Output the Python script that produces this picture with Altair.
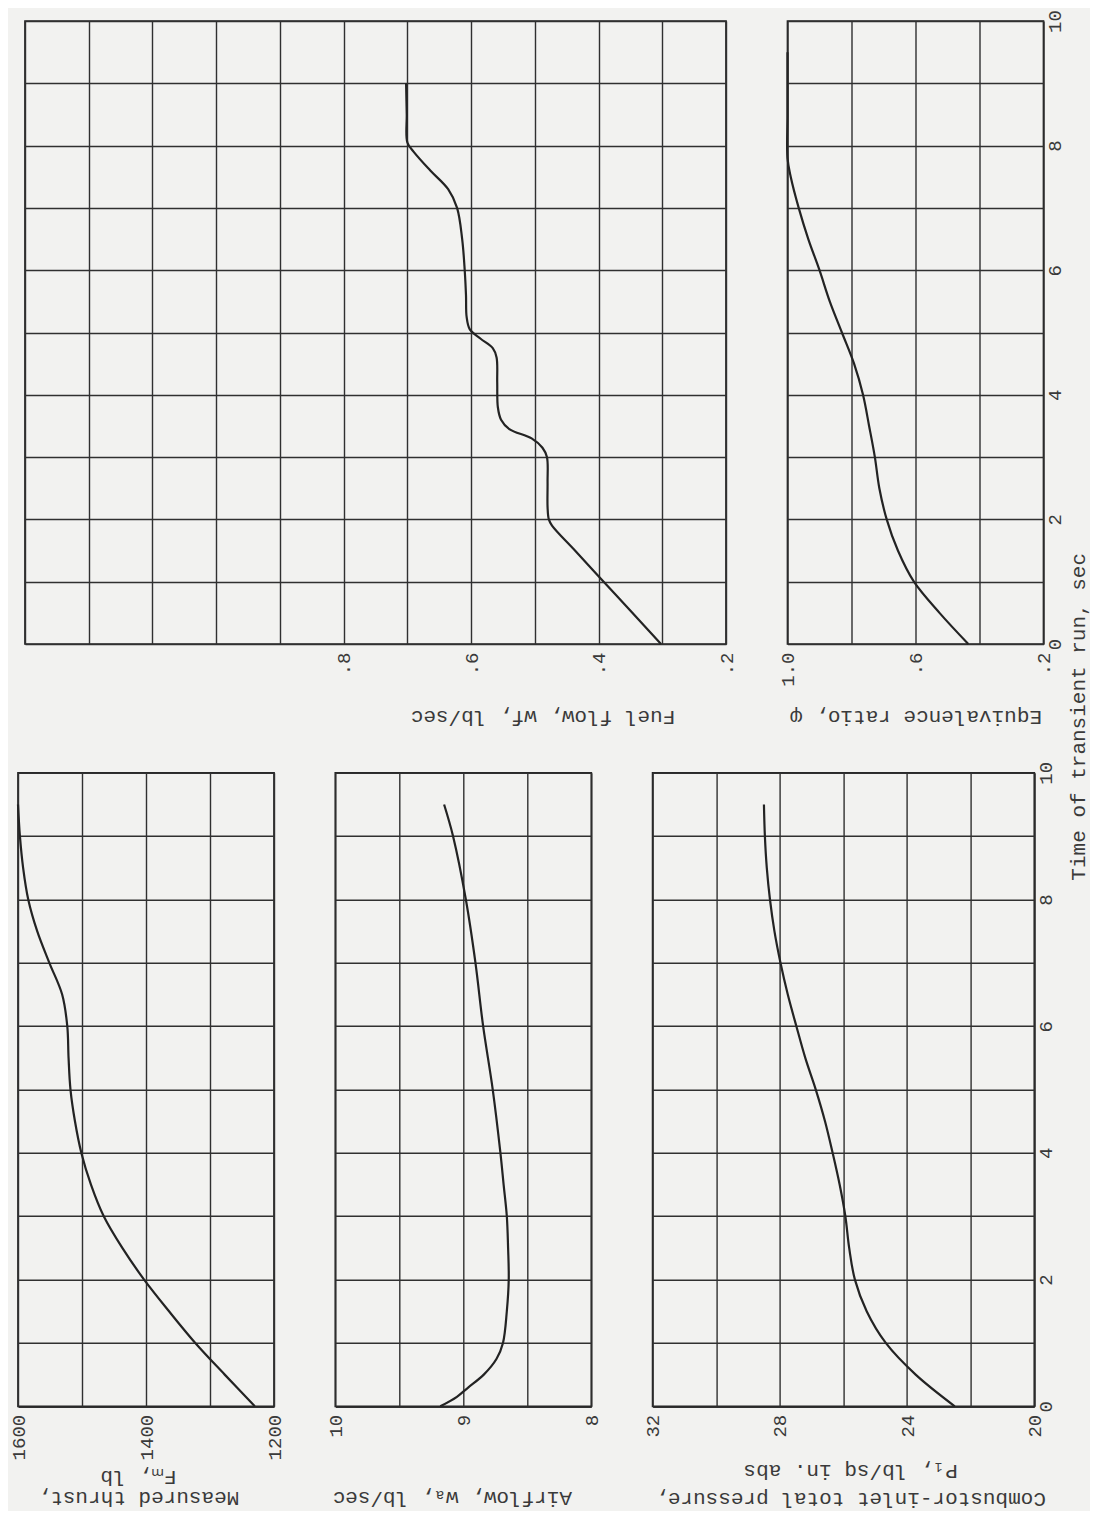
import altair as alt
import pandas as pd

# ---------------- values ----------------
T_THRUST = [0.0, 0.5, 1.0, 1.5, 2.0, 2.5, 3.0, 3.5, 4.0, 4.5, 5.0, 5.5, 6.0, 6.5, 7.0, 7.5, 8.0, 8.5, 9.0, 9.5]
THRUST = [1230, 1277, 1323, 1364, 1403, 1437, 1466, 1486, 1501, 1511, 1518, 1521, 1523, 1531, 1551, 1570, 1584, 1592, 1597, 1600]

T_AIR = [0.0, 0.15, 0.3, 0.5, 0.75, 1.0, 1.5, 2.0, 2.5, 3.0, 3.5, 4.0, 5.0, 6.0, 7.0, 8.0, 9.0, 9.5]
AIRFLOW = [9.18, 9.05, 8.96, 8.84, 8.74, 8.69, 8.66, 8.645, 8.65, 8.66, 8.685, 8.71, 8.77, 8.845, 8.905, 8.98, 9.08, 9.15]

T_PRES = [0.0, 0.5, 1.0, 1.5, 2.0, 2.5, 3.0, 3.5, 4.0, 4.5, 5.0, 5.5, 6.0, 6.5, 7.0, 7.5, 8.0, 8.5, 9.0, 9.5]
PRESSURE = [22.5, 23.73, 24.67, 25.27, 25.64, 25.82, 25.94, 26.12, 26.34, 26.58, 26.87, 27.2, 27.48, 27.75, 27.98, 28.17, 28.31, 28.41, 28.47, 28.5]

T_FUEL = [0.0, 0.5, 1.0, 1.5, 1.9, 2.0, 2.2, 2.6, 3.0, 3.15, 3.3, 3.45, 3.6, 3.8, 4.2, 4.6, 4.75, 4.9, 5.05,
          5.25, 5.6, 6.0, 6.5, 7.0, 7.3, 7.6, 7.9, 8.05, 8.5, 9.0]
FUEL = [0.302, 0.347, 0.392, 0.437, 0.473, 0.478, 0.480, 0.480, 0.481, 0.488, 0.505, 0.540, 0.553, 0.558, 0.559,
        0.560, 0.566, 0.585, 0.602, 0.607, 0.608, 0.610, 0.614, 0.622, 0.636, 0.664, 0.690, 0.700, 0.701, 0.702]

T_EQ = [0.0, 0.5, 1.0, 1.5, 2.0, 2.5, 3.0, 3.5, 4.0, 4.5, 5.0, 5.5, 6.0, 6.5, 7.0, 7.5, 7.8, 8.5, 9.5]
EQUIV = [0.435, 0.525, 0.605, 0.655, 0.690, 0.713, 0.727, 0.745, 0.764, 0.792, 0.830, 0.868, 0.900, 0.935,
         0.965, 0.990, 1.0, 1.0, 1.0]

# ---------------- tick values and labels ----------------
TIME_GRID = [0, 1, 2, 3, 4, 5, 6, 7, 8, 9, 10]
TIME_LABELS = [0, 2, 4, 6, 8, 10]
TIME_TITLE = "Time of transient run, sec"

THRUST_GRID = [1200, 1300, 1400, 1500, 1600]
THRUST_LABEL_VALUES = [1600, 1400, 1200]
THRUST_LABEL_TEXT = ["1600", "1400", "1200"]

AIR_GRID = [8.0, 8.5, 9.0, 9.5, 10.0]
AIR_LABEL_VALUES = [10, 9, 8]
AIR_LABEL_TEXT = ["10", "9", "8"]

PRES_GRID = [20, 22, 24, 26, 28, 30, 32]
PRES_LABEL_VALUES = [32, 28, 24, 20]
PRES_LABEL_TEXT = ["32", "28", "24", "20"]

FUEL_GRID = [0.2, 0.3, 0.4, 0.5, 0.6, 0.7, 0.8, 0.9, 1.0, 1.1, 1.2, 1.3]
FUEL_LABEL_VALUES = [0.8, 0.6, 0.4, 0.2]
FUEL_LABEL_TEXT = [".8", ".6", ".4", ".2"]

EQ_GRID = [0.2, 0.4, 0.6, 0.8, 1.0]
EQ_LABEL_VALUES = [1.0, 0.6, 0.2]
EQ_LABEL_TEXT = ["1.0", ".6", ".2"]

# ---------------- styling ----------------
FONT = "Liberation Mono"
INK = "#232323"
TXT = "#3a3a3a"
GRID = "#303030"
BG = "#f2f2f0"
LABEL_SIZE = 19


def label_expr(values, texts):
    expr = "''"
    for v, t in reversed(list(zip(values, texts))):
        expr = f"abs(datum.value - ({v})) < 1e-6 ? '{t}' : {expr}"
    return expr


def label_size(values):
    test = " || ".join(f"abs(datum.value - ({v})) < 1e-6" for v in values)
    return {"condition": {"test": test, "value": LABEL_SIZE}, "value": 0}


TIME_EXPR = label_expr(TIME_LABELS, [str(v) for v in TIME_LABELS])


def time_axis(mode):
    if mode in ("right", "right_title"):
        kw = dict(orient="right", values=TIME_GRID, labelExpr=TIME_EXPR, labelFontSize=label_size(TIME_LABELS),
                  labelAngle=-90, labelAlign="center", labelBaseline="top", labelPadding=2, labelOverlap=False,
                  labelFlush=False, ticks=False, domain=False, grid=True, minExtent=22, maxExtent=22)
        if mode == "right_title":
            kw.update(title=TIME_TITLE, titleAngle=270, titleAlign="center", titleBaseline="top",
                      titleX=33, titleY=-56.5)
        else:
            kw.update(title=None)
        return alt.Axis(**kw)
    return alt.Axis(orient="left", values=TIME_GRID, labels=False, ticks=False, domain=False,
                    grid=True, title=None, minExtent=0, maxExtent=0)


def panel(times, values, domain, grid_vals, lab_vals, lab_text, title, title_x, title_y,
          title_lh, width, height, tmode):
    df = pd.DataFrame({"t": times, "v": values})
    axis_kw = dict(orient="bottom", values=grid_vals, labelExpr=label_expr(lab_vals, lab_text),
                   labelFontSize=label_size(lab_vals),
                   labelAngle=-90, labelAlign="right", labelBaseline="middle", labelPadding=8,
                   labelFlush=False, labelOverlap=False, ticks=False, domain=False, grid=True,
                   title=title, titleAngle=180, titleAlign="center", titleBaseline="middle",
                   titleY=title_y, titleLineHeight=title_lh)
    if title_x is not None:
        axis_kw["titleX"] = title_x
    xaxis = alt.Axis(**axis_kw)
    return alt.Chart(df).mark_line(color=INK, strokeWidth=2.2, interpolate="catmull-rom").encode(
        x=alt.X("v:Q", scale=alt.Scale(domain=domain, reverse=True, nice=False, zero=False), axis=xaxis),
        y=alt.Y("t:Q", scale=alt.Scale(domain=[0, 10], nice=False, zero=False), axis=time_axis(tmode)),
        order=alt.Order("t:Q"),
    ).properties(width=width, height=height)


H_TOP = 623
H_BOT = 633.5

fuel = panel(T_FUEL, FUEL, [0.2, 1.3], FUEL_GRID, FUEL_LABEL_VALUES, FUEL_LABEL_TEXT,
             "Fuel flow, wf, lb/sec", 517.5, 72, 24, 701, H_TOP, "none")
eq = panel(T_EQ, EQUIV, [0.2, 1.0], EQ_GRID, EQ_LABEL_VALUES, EQ_LABEL_TEXT,
           "Equivalence ratio, φ", None, 72, 24, 256, H_TOP, "right")
thrust = panel(T_THRUST, THRUST, [1200, 1600], THRUST_GRID, THRUST_LABEL_VALUES, THRUST_LABEL_TEXT,
               ["Measured thrust,", "Fₘ, lb"], 120, 91.5, 21, 256, H_BOT, "none")
air = panel(T_AIR, AIRFLOW, [8, 10], AIR_GRID, AIR_LABEL_VALUES, AIR_LABEL_TEXT,
            "Airflow, wₐ, lb/sec", 116.5, 91.5, 24, 256, H_BOT, "none")
pres = panel(T_PRES, PRESSURE, [20, 32], PRES_GRID, PRES_LABEL_VALUES, PRES_LABEL_TEXT,
             ["Combustor-inlet total pressure,", "P₁, lb/sq in. abs"], 197.5, 92, 28, 381.7, H_BOT,
             "right_title")

# small invisible block that shifts the upper row to the right of the lower row
spacer = alt.Chart(pd.DataFrame({"a": [0]})).mark_point(opacity=0, size=1).encode(
    x=alt.value(2), y=alt.value(3)
).properties(width=4.5, height=H_TOP, view=alt.ViewBackground(stroke="transparent"))

top_inner = alt.hconcat(fuel, eq, spacing=61.5, bounds="flush")
top_row = alt.hconcat(spacer, top_inner, spacing=0)
bottom_row = alt.hconcat(thrust, air, pres, spacing=61.3, bounds="flush")

chart = alt.vconcat(top_row, bottom_row, spacing=-177.2).properties(
    padding={"top": 0, "left": 0, "right": 0, "bottom": 0},
    background=BG,
).configure_view(stroke=INK, strokeWidth=1.7).configure_axis(
    labelFont=FONT, labelFontSize=LABEL_SIZE, labelColor=TXT,
    titleFont=FONT, titleFontSize=21, titleFontWeight="normal", titleColor=TXT,
    gridColor=GRID, gridWidth=1.4, gridOpacity=1,
)

chart.save("out.html", embed_options={"renderer": "svg", "actions": False})
